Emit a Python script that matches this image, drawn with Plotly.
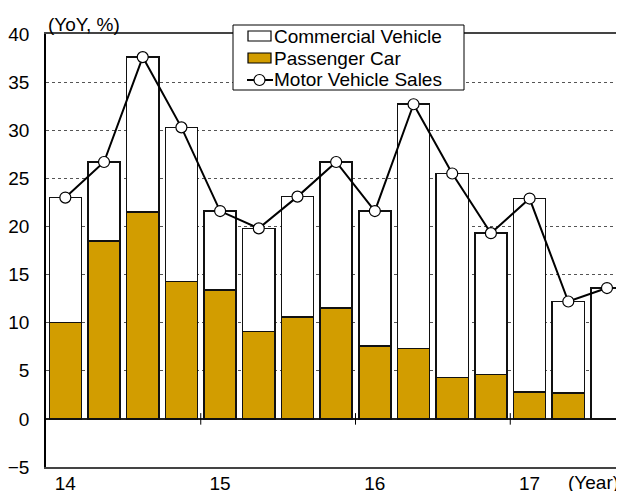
import plotly.graph_objects as go

# quarters 2014Q1 .. 2017Q3
quarters = list(range(15))
total_sales = [23.0, 26.7, 37.6, 30.3, 21.6, 19.8, 23.1, 26.7, 21.6, 32.7, 25.5, 19.3, 22.9, 12.2, 13.6]
passenger_car = [10.0, 18.5, 21.5, 14.3, 13.4, 9.1, 10.6, 11.5, 7.6, 7.3, 4.3, 4.6, 2.8, 2.7, 0.0]
commercial_vehicle = [round(t - p, 1) for t, p in zip(total_sales, passenger_car)]

year_pos = [0, 4, 8, 12]
year_labels = ["14", "15", "16", "17"]
year_breaks = [3.5, 7.5, 11.5]

FONT = "Arial, Liberation Sans, sans-serif"
GOLD = "#D29D00"
FS = 19

# page body has an 8px margin, so the figure is shrunk by that much
W, H = 616, 483
ML, MT, MB = 38, 26, 24
PW, PH = W - ML, H - MT - MB


def px_x(X):
    # page pixel -> paper x
    return (X - 8 - ML) / PW


def px_y(Y):
    # page pixel -> paper y
    return (H - MB - (Y - 8)) / PH


fig = go.Figure()

fig.add_trace(go.Bar(
    x=quarters, y=passenger_car, name="Passenger Car",
    marker=dict(color=GOLD, line=dict(color="#111", width=1.5)),
))
fig.add_trace(go.Bar(
    x=quarters, y=commercial_vehicle, name="Commercial Vehicle",
    marker=dict(color="white", line=dict(color="#111", width=1.5)),
))
fig.add_trace(go.Scatter(
    x=quarters, y=total_sales, name="Motor Vehicle Sales",
    mode="lines+markers",
    line=dict(color="black", width=2),
    marker=dict(symbol="circle", size=11, color="white",
                line=dict(color="black", width=1.2)),
    cliponaxis=False,
))

# small year-boundary ticks on the zero line
for xb in year_breaks:
    fig.add_shape(type="line", xref="x", yref="y", x0=xb, x1=xb, y0=-0.6, y1=0.6,
                  line=dict(color="black", width=1))

# -------------------------
# LEGEND (drawn by hand to match the box spacing)
# -------------------------
fig.add_shape(type="rect", xref="paper", yref="paper",
              x0=px_x(233), x1=px_x(464), y0=px_y(90), y1=px_y(25),
              fillcolor="white", line=dict(color="black", width=1), layer="above")
fig.add_shape(type="rect", xref="paper", yref="paper",
              x0=px_x(248), x1=px_x(271), y0=px_y(41), y1=px_y(31),
              fillcolor="white", line=dict(color="black", width=1.2), layer="above")
fig.add_shape(type="rect", xref="paper", yref="paper",
              x0=px_x(248), x1=px_x(271), y0=px_y(63), y1=px_y(53),
              fillcolor=GOLD, line=dict(color="black", width=1.2), layer="above")
fig.add_shape(type="line", xref="paper", yref="paper",
              x0=px_x(247), x1=px_x(273), y0=px_y(80), y1=px_y(80),
              line=dict(color="black", width=2), layer="above")
fig.add_shape(type="circle", xref="paper", yref="paper",
              x0=px_x(254), x1=px_x(265), y0=px_y(85.5), y1=px_y(74.5),
              fillcolor="white", line=dict(color="black", width=1.2), layer="above")

legend_names = ["Commercial Vehicle", "Passenger Car", "Motor Vehicle Sales"]
legend_rows = [36, 58, 80]
for name, row in zip(legend_names, legend_rows):
    fig.add_annotation(text=name, xref="paper", yref="paper", x=px_x(272), y=px_y(row),
                       xanchor="left", yanchor="middle", showarrow=False,
                       font=dict(size=FS, family=FONT, color="black"))

fig.add_annotation(text="(YoY, %)", xref="paper", yref="paper", x=px_x(46), y=px_y(24),
                   xanchor="left", yanchor="middle", showarrow=False,
                   font=dict(size=FS, family=FONT, color="black"))
fig.add_annotation(text="(Year)", xref="paper", yref="paper", x=px_x(621), y=px_y(482),
                   xanchor="right", yanchor="middle", showarrow=False,
                   font=dict(size=FS, family=FONT, color="black"))

fig.update_layout(
    width=W, height=H,
    margin=dict(l=ML, r=0, t=MT, b=MB),
    plot_bgcolor="white", paper_bgcolor="white",
    barmode="stack", bargap=0.17,
    font=dict(family=FONT, size=FS, color="black"),
    showlegend=False,
)

fig.update_xaxes(
    range=[-0.5, 14.44], tickvals=year_pos, ticktext=year_labels,
    showgrid=False, zeroline=False, ticks="", automargin=False,
    showline=True, linecolor="#444", linewidth=2, mirror=True,
    ticklabelstandoff=-2,
    tickfont=dict(size=FS, family=FONT),
)
fig.update_yaxes(
    range=[-5, 40], dtick=5, ticks="", automargin=False,
    showgrid=True, gridcolor="#555", griddash="dot", gridwidth=1,
    zeroline=True, zerolinecolor="#222", zerolinewidth=2,
    showline=True, linecolor="black", linewidth=1.5,
    ticklabelstandoff=11,
    tickfont=dict(size=FS, family=FONT),
)

fig.write_html("out.html")
